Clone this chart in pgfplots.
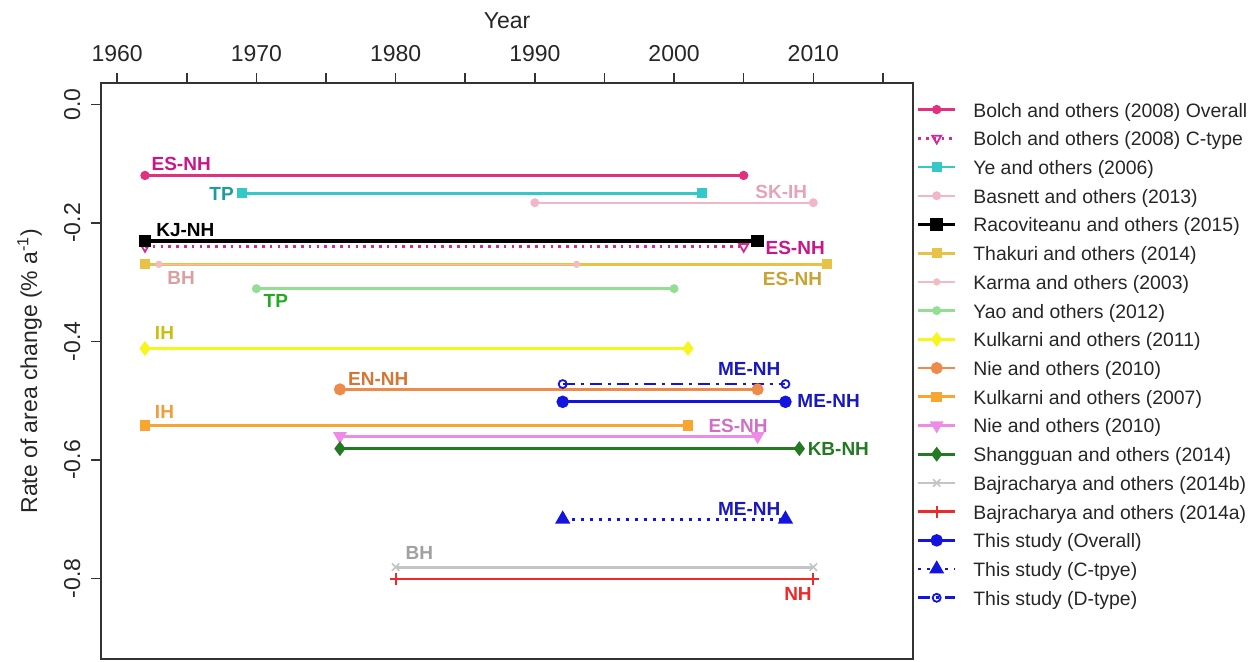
\documentclass[border=0pt]{standalone}
\usepackage{fontspec}
\setmainfont{Liberation Sans}
\usepackage{pgfplots}
\pgfplotsset{compat=1.18}
\definecolor{cBolch}{HTML}{E0307E}
\definecolor{cBolchT}{HTML}{C8168C}
\definecolor{cBolchC}{HTML}{D42A98}
\definecolor{cYe}{HTML}{35C8C8}
\definecolor{cYeT}{HTML}{1E9C9C}
\definecolor{cBas}{HTML}{F2B6C8}
\definecolor{cBasT}{HTML}{E6A2B8}
\definecolor{cTha}{HTML}{E8C246}
\definecolor{cThaT}{HTML}{C8A232}
\definecolor{cKar}{HTML}{F0BCC2}
\definecolor{cKarT}{HTML}{D8A0A0}
\definecolor{cYao}{HTML}{94DE94}
\definecolor{cYaoT}{HTML}{22AA22}
\definecolor{cKu11}{HTML}{F6F61E}
\definecolor{cKu11T}{HTML}{C8C010}
\definecolor{cNie1}{HTML}{EE8A4A}
\definecolor{cNie1T}{HTML}{D47634}
\definecolor{cKu07}{HTML}{F8A630}
\definecolor{cKu07T}{HTML}{EE9E3A}
\definecolor{cNie2}{HTML}{EC8CE6}
\definecolor{cNie2T}{HTML}{D070C4}
\definecolor{cSha}{HTML}{237A23}
\definecolor{cBaB}{HTML}{C4C4C4}
\definecolor{cBaBT}{HTML}{A0A0A0}
\definecolor{cBaA}{HTML}{F02828}
\definecolor{cBlue}{HTML}{1414E0}
\definecolor{cBlueT}{HTML}{1818C0}
\begin{document}
\begin{tikzpicture}
\useasboundingbox (0,0) rectangle (630pt,330.5pt);
\begin{axis}[
  at={(50.5pt,1pt)}, anchor=south west,
  scale only axis, width=406pt, height=288pt,
  xmin=1958.84, xmax=2017.16, ymin=-0.936, ymax=0.036,
  axis line style={line width=0.9pt, black!80},
  xtick={1960,1965,...,2015},
  xticklabels={1960,,1970,,1980,,1990,,2000,,2010,},
  xtick pos=upper, xticklabel pos=upper,
  ytick={-0.8,-0.6,-0.4,-0.2,0},
  yticklabels={-0.8,-0.6,-0.4,-0.2,0.0},
  ytick pos=left,
  tick align=outside, major tick length=5pt,
  every tick/.style={line width=0.8pt, black!80},
  ticklabel style={font=\fontsize{11.5}{13}\selectfont, text=black!85},
  xticklabel style={anchor=base, yshift=5.6pt},
  yticklabel style={xshift=-5.5pt, rotate=90, anchor=base},
  clip=false,
  legend cell align=left,
  legend image code/.code={\draw[mark repeat=2,mark phase=2,#1] plot coordinates {(0pt,3.3pt) (9.25pt,3.3pt) (18.5pt,3.3pt)};},
  legend style={draw=none, fill=none, at={(1,1)}, anchor=north west, xshift=1.5pt, yshift=-9.2pt,
    font=\fontsize{9.7}{11}\selectfont, text=black!85, inner sep=0pt, row sep=0pt,
    nodes={inner sep=0pt, text height=7.6pt, text depth=6.76pt},
    /tikz/every odd column/.append style={column sep=8.2pt}},
]
\addplot[cBolch, line width=1.4pt, mark=*, mark size=1.6pt] coordinates {(1962,-0.12) (2005,-0.12)};
\addlegendentry{Bolch and others (2008) Overall}
\addplot[cBolchC, line width=1.3pt, dash pattern=on 1.3pt off 2.6pt, mark=triangle, mark size=2.6pt, mark options={solid, rotate=180, line width=0.9pt, fill=white}] coordinates {(1962,-0.24) (2005,-0.24)};
\addlegendentry{Bolch and others (2008) C-type}
\addplot[cYe, line width=1.4pt, mark=square*, mark size=1.8pt] coordinates {(1969,-0.15) (2002,-0.15)};
\addlegendentry{Ye and others (2006)}
\addplot[cBas, line width=1.2pt, mark=*, mark size=1.6pt] coordinates {(1990,-0.166) (2010,-0.166)};
\addlegendentry{Basnett and others (2013)}
\addplot[black, line width=1.8pt, mark=square*, mark size=2.2pt] coordinates {(1962,-0.231) (2006,-0.231)};
\addlegendentry{Racoviteanu and others (2015)}
\addplot[cTha, line width=1.4pt, mark=square*, mark size=1.8pt] coordinates {(1962,-0.27) (2011,-0.27)};
\addlegendentry{Thakuri and others (2014)}
\addplot[cKar, line width=0.8pt, mark=*, mark size=1.4pt] coordinates {(1963,-0.27) (1993,-0.27)};
\addlegendentry{Karma and others (2003)}
\addplot[cYao, line width=1.2pt, mark=*, mark size=1.6pt] coordinates {(1970,-0.311) (2000,-0.311)};
\addlegendentry{Yao and others (2012)}
\addplot[cKu11, line width=1.4pt, mark=diamond*, mark size=2.6pt] coordinates {(1962,-0.412) (2001,-0.412)};
\addlegendentry{Kulkarni and others (2011)}
\addplot[cNie1, line width=1.4pt, mark=*, mark size=2.3pt] coordinates {(1976,-0.481) (2006,-0.481)};
\addlegendentry{Nie and others (2010)}
\addplot[cKu07, line width=1.4pt, mark=square*, mark size=1.9pt] coordinates {(1962,-0.542) (2001,-0.542)};
\addlegendentry{Kulkarni and others (2007)}
\addplot[cNie2, line width=1.4pt, mark=triangle*, mark size=2.6pt, mark options={rotate=180}] coordinates {(1976,-0.56) (2006,-0.56)};
\addlegendentry{Nie and others (2010)}
\addplot[cSha, line width=1.4pt, mark=diamond*, mark size=2.6pt] coordinates {(1976,-0.581) (2009,-0.581)};
\addlegendentry{Shangguan and others (2014)}
\addplot[cBaB, line width=1.4pt, mark=x, mark size=2.6pt, mark options={line width=0.8pt}] coordinates {(1980,-0.781) (2010,-0.781)};
\addlegendentry{Bajracharya and others (2014b)}
\addplot[cBaA, line width=1.4pt, mark=+, mark size=3pt, mark options={line width=0.9pt}] coordinates {(1980,-0.801) (2010,-0.801)};
\addlegendentry{Bajracharya and others (2014a)}
\addplot[cBlue, line width=1.4pt, mark=*, mark size=2.4pt] coordinates {(1992,-0.502) (2008,-0.502)};
\addlegendentry{This study (Overall)}
\addplot[cBlue, line width=1.4pt, dash pattern=on 1.5pt off 3pt, mark=triangle*, mark size=3pt, mark options={solid}] coordinates {(1992,-0.70) (2008,-0.70)};
\addlegendentry{This study (C-tpye)}
\addplot[cBlue, line width=1.4pt, dash pattern=on 6pt off 3pt on 1.5pt off 3pt, mark=o, mark size=2pt, mark options={solid, fill=white, line width=0.9pt}] coordinates {(1992,-0.472) (2008,-0.472)};
\addlegendentry{This study (D-type)}

\begin{scope}[every node/.style={font=\fontsize{9.5}{10}\selectfont\bfseries, inner sep=0pt, text height=6.8pt, text depth=0pt, anchor=center}]
\node[text=cBolchT] at (axis cs:1964.6,-0.100) {ES-NH};
\node[text=cYeT] at (axis cs:1967.5,-0.150) {TP};
\node[text=cBasT] at (axis cs:2007.7,-0.147) {SK-IH};
\node[text=black] at (axis cs:1964.9,-0.211) {KJ-NH};
\node[text=cBolchT] at (axis cs:2008.7,-0.242) {ES-NH};
\node[text=cKarT] at (axis cs:1964.6,-0.292) {BH};
\node[text=cThaT] at (axis cs:2008.5,-0.295) {ES-NH};
\node[text=cYaoT] at (axis cs:1971.4,-0.332) {TP};
\node[text=cKu11T] at (axis cs:1963.4,-0.385) {IH};
\node[text=cBlueT] at (axis cs:2005.4,-0.446) {ME-NH};
\node[text=cNie1T] at (axis cs:1978.75,-0.463) {EN-NH};
\node[text=cBlueT] at (axis cs:2011.1,-0.500) {ME-NH};
\node[text=cKu07T] at (axis cs:1963.4,-0.518) {IH};
\node[text=cNie2T] at (axis cs:2004.6,-0.542) {ES-NH};
\node[text=cSha] at (axis cs:2011.8,-0.581) {KB-NH};
\node[text=cBlueT] at (axis cs:2005.4,-0.682) {ME-NH};
\node[text=cBaBT] at (axis cs:1981.7,-0.757) {BH};
\node[text=cBaA] at (axis cs:2008.9,-0.825) {NH};
\end{scope}
\end{axis}
\node[font=\fontsize{11.5}{13}\selectfont, text=black!85, anchor=base] at (253.5pt,316.5pt) {Year};
\node[font=\fontsize{11.5}{13}\selectfont, text=black!85, rotate=90, anchor=base] at (18.5pt,145pt) {Rate of area change (\% a\textsuperscript{-1})};
\end{tikzpicture}
\end{document}
